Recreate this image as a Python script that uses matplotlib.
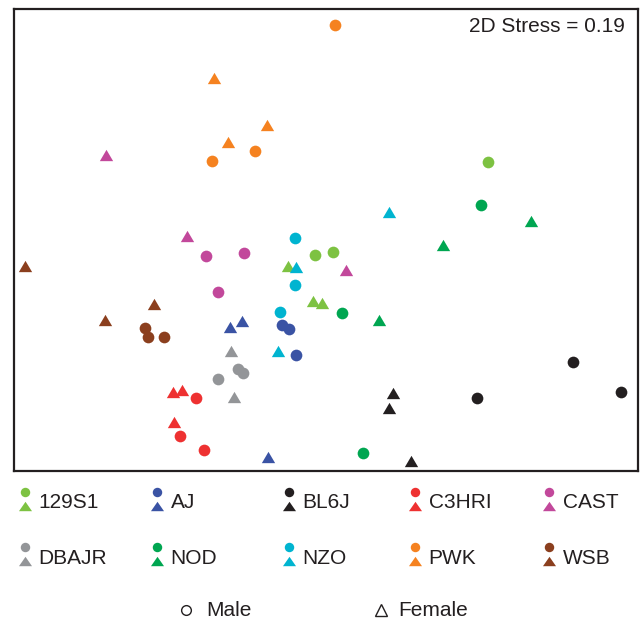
"""NMDS ordination of mouse strains (males as circles, females as triangles)."""
import matplotlib
matplotlib.use("Agg")
import matplotlib.pyplot as plt

plt.rcParams.update({
    "font.family": ["Liberation Sans", "DejaVu Sans"],
    "font.size": 15,
})

# strain order, colours
strains = ["129S1", "AJ", "BL6J", "C3HRI", "CAST",
           "DBAJR", "NOD", "NZO", "PWK", "WSB"]
colors = ["#7DC242", "#3A53A4", "#231F20", "#EE3131", "#C2489B",
          "#939598", "#00A651", "#00B4D0", "#F58220", "#8B3F1E"]

# NMDS coordinates (arbitrary units, y grows downward)
male_x = {
    "129S1": [488, 315, 333], "AJ": [282, 289, 296], "BL6J": [573, 477, 621],
    "C3HRI": [196, 180, 204], "CAST": [206, 244, 218], "DBAJR": [218, 238, 243],
    "NOD": [481, 342, 363], "NZO": [295, 295, 280], "PWK": [335, 212, 255],
    "WSB": [145, 148, 164],
}
male_y = {
    "129S1": [162, 255, 252], "AJ": [325, 329, 355], "BL6J": [362, 398, 392],
    "C3HRI": [398, 436, 450], "CAST": [256, 253, 292], "DBAJR": [379, 369, 373],
    "NOD": [205, 313, 453], "NZO": [238, 285, 312], "PWK": [25, 161, 151],
    "WSB": [328, 337, 337],
}
female_x = {
    "129S1": [288, 313, 322], "AJ": [230, 242, 268], "BL6J": [393, 389, 411],
    "C3HRI": [173, 182, 174], "CAST": [106, 187, 346], "DBAJR": [231, 234],
    "NOD": [531, 443, 379], "NZO": [389, 296, 278], "PWK": [214, 228, 267],
    "WSB": [25, 105, 154],
}
female_y = {
    "129S1": [266, 301, 303], "AJ": [327, 321, 457], "BL6J": [393, 408, 461],
    "C3HRI": [392, 390, 422], "CAST": [155, 236, 270], "DBAJR": [351, 397],
    "NOD": [221, 245, 320], "NZO": [212, 267, 351], "PWK": [78, 142, 125],
    "WSB": [266, 320, 304],
}
stress = 0.19

# slightly flattened triangles, as in the original artwork
tri_plot = [(-1, -0.85), (1, -0.85), (0, 0.85)]
tri_leg = [(-1, -0.72), (1, -0.72), (0, 0.72)]

W, H = 643, 620
fig = plt.figure(figsize=(W / 100, H / 100), dpi=100)

# main ordination panel
ax = fig.add_axes([14 / W, 1 - 471 / H, 624 / W, 462 / H])
for name, col in zip(strains, colors):
    ax.scatter(male_x[name], male_y[name], s=71, marker="o", color=col,
               linewidths=0, zorder=3)
    ax.scatter(female_x[name], female_y[name], s=92, marker=tri_plot,
               color=col, linewidths=0, zorder=3)
ax.set_xlim(14, 638)
ax.set_ylim(471, 9)
ax.set_xticks([])
ax.set_yticks([])
for sp in ax.spines.values():
    sp.set_linewidth(1.6)
    sp.set_color("#231F20")
ax.text(0.979, 0.962, f"2D Stress = {stress:.2f}", transform=ax.transAxes,
        ha="right", va="center", color="#231F20")

# legend drawn in pixel space below the panel
leg = fig.add_axes([0, 0, 1, 1])
leg.set_xlim(0, W)
leg.set_ylim(H, 0)
leg.axis("off")
col_x = [25, 157, 289, 415, 549]
row_y = [492, 547]
for i, (name, col) in enumerate(zip(strains, colors)):
    x = col_x[i % 5]
    y = row_y[i // 5]
    leg.plot(x, y, "o", ms=6.8, color=col, mec="none")
    leg.plot(x, y + 14, marker=tri_leg, ms=9.4, color=col, mec="none")
    leg.text(x + 13.5, y + 11, name, ha="left", va="center", color="#231F20")

leg.plot(186, 610, "o", ms=7, mfc="white", mec="#231F20", mew=1.0)
leg.text(206, 610, "Male", ha="left", va="center", color="#231F20")
leg.plot(381, 610, "^", ms=8.5, mfc="white", mec="#231F20", mew=1.0)
leg.text(398, 610, "Female", ha="left", va="center", color="#231F20")

fig.savefig("out.png", dpi=100)
